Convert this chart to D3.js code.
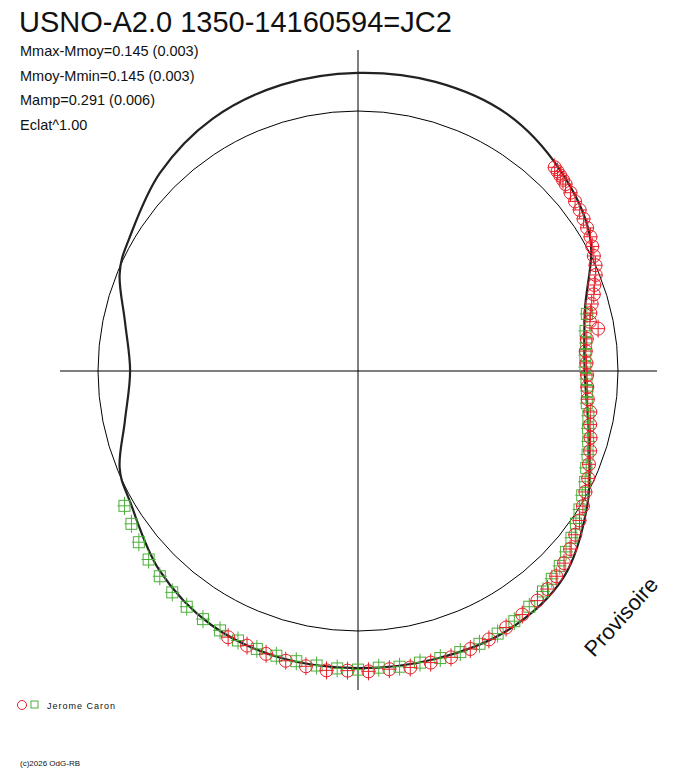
<!DOCTYPE html>
<html>
<head>
<script src="https://d3js.org/d3.v7.min.js"></script>
<style>
body { margin: 0; background: #fff; }
text { font-family: "Liberation Sans", Arial, sans-serif; }
</style>
</head>
<body>
<script>
// mean curve: angle (deg, counterclockwise from right) and delta mag
var curveAngle = [0, 15, 30, 45, 60, 75, 90, 105, 120, 135, 150, 158, 168, 180, 192, 202, 210, 225, 240, 255, 270, 285, 300, 315, 330, 345];
var curveMag = [-0.138, -0.104, 0.033, 0.104, 0.154, 0.163, 0.158, 0.15, 0.129, 0.083, 0.018, -0.012, -0.090, -0.133, -0.090, -0.012, 0.012, 0.088, 0.138, 0.154, 0.154, 0.158, 0.163, 0.129, 0.021, -0.088];

// red observer series
var redAngle = [46, 45, 44, 43, 42, 40, 38, 36, 34, 32, 30, 28, 26, 24, 22, 20, 18, 16, 14, 12, 10, 8, 5, 2, -1, -4, -7, -10, -13, -16, -19, -22, -25, -28, -31, -34, -37, -40, -43, -46, -49, -52, -56, -60, -64, -68, -72, -76, -80, -84, -88, -92, -96, -100, -104, -108, -112, -116];
var redMag = [0.096, 0.092, 0.088, 0.084, 0.080, 0.072, 0.064, 0.058, 0.050, 0.042, 0.035, 0.022, 0.010, 0.000, -0.015, -0.035, -0.050, -0.070, -0.085, -0.095, -0.067, -0.120, -0.130, -0.130, -0.128, -0.125, -0.118, -0.100, -0.090, -0.075, -0.060, -0.045, -0.025, -0.010, 0.010, 0.030, 0.050, 0.070, 0.090, 0.105, 0.120, 0.130, 0.140, 0.150, 0.160, 0.165, 0.170, 0.168, 0.170, 0.165, 0.168, 0.165, 0.170, 0.165, 0.160, 0.155, 0.150, 0.150];

// green observer series
var greenAngle = [14, 10, 7, 4, 1, -2, -5, -8, -11, -14, -17, -20, -23, -26, -29, -32, -35, -38, -41, -44, -47, -50, -54, -58, -62, -66, -70, -74, -78, -82, -86, -90, -94, -98, -102, -106, -110, -114, -118, -122, -126, -130, -134, -138, -142, -146, -150];
var greenMag = [-0.100, -0.120, -0.125, -0.133, -0.135, -0.130, -0.125, -0.120, -0.105, -0.095, -0.080, -0.065, -0.050, -0.030, -0.015, 0.005, 0.025, 0.045, 0.065, 0.085, 0.100, 0.115, 0.130, 0.145, 0.155, 0.160, 0.162, 0.160, 0.158, 0.160, 0.155, 0.160, 0.158, 0.155, 0.152, 0.150, 0.148, 0.145, 0.140, 0.135, 0.130, 0.120, 0.105, 0.090, 0.075, 0.055, 0.040];

var statLines = ["Mmax-Mmoy=0.145 (0.003)", "Mmoy-Mmin=0.145 (0.003)", "Mamp=0.291 (0.006)", "Eclat^1.00"];

var W = 688, H = 768, cx = 358, cy = 371;
var svg = d3.select("body").append("svg").attr("width", W).attr("height", H);

var rScale = d3.scaleLinear().domain([0, 0.145]).range([260, 295]);
function px(a, m) { return cx + rScale(m) * Math.cos(a * Math.PI / 180); }
function py(a, m) { return cy - rScale(m) * Math.sin(a * Math.PI / 180); }

// axes
svg.append("line").attr("x1", 60).attr("x2", 657).attr("y1", cy).attr("y2", cy).attr("stroke", "#000");
svg.append("line").attr("x1", cx).attr("x2", cx).attr("y1", 50).attr("y2", 690).attr("stroke", "#000");
svg.append("circle").attr("cx", cx).attr("cy", cy).attr("r", rScale(0)).attr("fill", "none").attr("stroke", "#000");

// mean curve
var line = d3.line().x(function(d) { return px(d[0], d[1]); }).y(function(d) { return py(d[0], d[1]); }).curve(d3.curveCardinalClosed);
svg.append("path").datum(d3.zip(curveAngle, curveMag)).attr("d", line)
  .attr("fill", "none").attr("stroke", "#222").attr("stroke-width", 2.2);

function drawSeries(angles, mags, color, shape) {
  var g = svg.append("g").attr("stroke", color).attr("fill", "none");
  angles.forEach(function(a, i) {
    var x = px(a, mags[i]), y = py(a, mags[i]);
    g.append("line").attr("x1", x).attr("x2", x).attr("y1", y - 9).attr("y2", y + 9);
    g.append("line").attr("x1", x - 7).attr("x2", x + 7).attr("y1", y).attr("y2", y);
    if (shape === "circle") g.append("circle").attr("cx", x).attr("cy", y).attr("r", 6.5);
    else g.append("rect").attr("x", x - 5.5).attr("y", y - 5.5).attr("width", 11).attr("height", 11);
  });
}
drawSeries(greenAngle, greenMag, "#4caf3a", "square");
drawSeries(redAngle, redMag, "#e8202a", "circle");

// texts
svg.append("text").attr("x", 19).attr("y", 32).attr("font-size", 29).attr("fill", "#111").text("USNO-A2.0 1350-14160594=JC2");
statLines.forEach(function(s, i) {
  svg.append("text").attr("x", 20).attr("y", 56 + i * 24.7).attr("font-size", 14.5).attr("fill", "#111").text(s);
});
svg.append("text").attr("transform", "translate(594,658) rotate(-48)").attr("font-size", 22).attr("fill", "#111").text("Provisoire");

svg.append("circle").attr("cx", 22).attr("cy", 705).attr("r", 4.5).attr("fill", "none").attr("stroke", "#e8202a");
svg.append("rect").attr("x", 31).attr("y", 701).attr("width", 7).attr("height", 7).attr("fill", "none").attr("stroke", "#4caf3a");
svg.append("text").attr("x", 47).attr("y", 709).attr("font-size", 9).attr("letter-spacing", 1).attr("fill", "#111").text("Jerome Caron");
svg.append("text").attr("x", 20).attr("y", 766).attr("font-size", 8).attr("fill", "#111").text("(c)2026 OdG-RB");
</script>
</body>
</html>
